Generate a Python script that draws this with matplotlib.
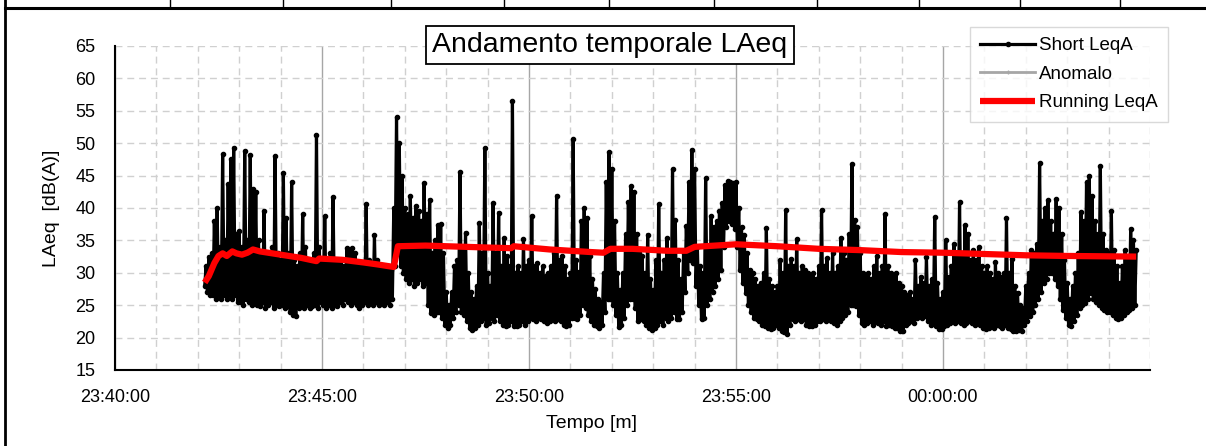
import numpy as np
import matplotlib
matplotlib.use("Agg")
import matplotlib.pyplot as plt
from matplotlib.lines import Line2D

plt.rcParams["font.family"] = ["Liberation Sans", "DejaVu Sans"]

# ---------------- data (seconds since 23:40:00) ----------------
T0 = 130      # first sample 23:42:10
STEP = 4      # lo at t, hi at t+2

# short LeqA, lower envelope (one line per minute)
short_lo = [
    28, 27, 26.5, 26.5, 26, 26.5, 26, 26.5, 26, 26.5, 26, 26.5, 25.5,                     # 23:42
    25.5, 25, 26, 25.5, 25, 25.5, 25, 24.8, 25.5, 24.5, 25, 25.5, 24.5, 25, 24.8,         # 23:43
    25, 24.5, 24.8, 24, 23.5, 23.3, 24.5, 25, 24.5, 25, 24.5, 24.8, 25, 24.5, 25.5,       # 23:44
    25, 24.5, 25, 24.5, 25, 24.8, 25.5, 25, 26, 25.5, 25, 25.5, 25, 24.5, 25,             # 23:45
    25.5, 25, 25.5, 25, 25.5, 25, 25.5, 25, 25.5, 25, 26, 31, 33, 31, 30,                 # 23:46
    29, 28.5, 29, 28, 28.5, 29, 28, 28.5, 25, 23.8, 23.5, 24, 24, 23, 22,                 # 23:47
    21.5, 22, 23, 24, 25, 24, 23.5, 22.5, 21.5, 21.2, 21.5, 22, 22.5, 23, 22,             # 23:48
    22.3, 23, 22.5, 23.5, 22.5, 22, 21.8, 22, 22.5, 21.8, 21.8, 22, 22.5, 22, 22.5,       # 23:49
    23, 22.8, 22.5, 23, 22.8, 22.5, 22.3, 22.5, 23, 22.5, 22.8, 22.5, 22, 21.8, 22,       # 23:50
    23, 23, 22.8, 23.5, 25, 24.5, 23.5, 22.5, 22, 21.8, 21.5, 22, 24, 26, 26,             # 23:51
    25, 23.5, 21.7, 22, 23, 25, 26, 26, 24.5, 22.5, 22.8, 22.5, 22, 21.5, 21.2,           # 23:52
    21.5, 22, 22.5, 22, 23, 22.5, 23, 24, 22.8, 22.8, 24, 27, 30, 32, 31.5,               # 23:53
    28, 25, 22.8, 23, 25, 26, 27, 28, 29, 30.5, 34, 37, 38, 37.5, 36.7,                   # 23:54
    34, 30.5, 28.5, 26.9, 25, 24, 23, 22.8, 22.5, 22, 21.8, 21.5, 21.3, 21.5, 22,         # 23:55
    21.5, 21, 20.8, 20.5, 22, 22.8, 22.5, 22.8, 22.5, 22.8, 22, 21.8, 21.8, 22, 22.5,     # 23:56
    22.5, 22.8, 22.5, 22.8, 22.5, 22.3, 22, 22.5, 23, 23.5, 24, 25, 25, 24.9, 23.5,       # 23:57
    22.3, 22, 22.3, 22.5, 22, 22.5, 22.3, 22, 22.5, 21.8, 22, 21.8, 21.5, 21.5, 21,       # 23:58
    21, 22, 22.3, 22.5, 22.3, 23, 23.3, 23, 23.3, 22.5, 22, 22.3, 21.8, 21.3, 21.3,       # 23:59
    21.8, 22, 22.3, 22.5, 22.3, 22.5, 22.3, 22, 22.3, 22.5, 22.3, 22, 22.3, 22, 21.5,     # 00:00
    21.3, 21.5, 21.8, 21.5, 22, 21.8, 21.5, 22, 21.5, 21.3, 21, 21, 21.2, 21, 22,         # 00:01
    22.5, 23.3, 24, 25, 26, 27, 28.4, 29, 30, 30, 29, 28, 26, 24.3, 23,                   # 00:02
    22, 21.8, 22.5, 23.5, 24.5, 25, 25.4, 26, 26.9, 26, 25.5, 25, 24.5, 24.3, 24,         # 00:03
    24, 23.5, 23, 22.8, 23, 23.5, 24, 24.3, 24.5, 25,                                     # 00:04
]

# short LeqA, upper envelope / spikes
short_hi = [
    31, 32.5, 33, 38, 40, 34, 48.3, 35, 43.7, 47.5, 49.3, 36, 36.4,                       # 23:42
    34, 48.8, 35, 48.2, 43, 42.5, 35, 33, 39.6, 33, 32.5, 34, 48, 33, 32,                 # 23:43
    45.4, 38.5, 33, 44, 32, 31, 33, 39, 34, 32, 31.5, 33, 51.3, 34, 32,                   # 23:44
    38.7, 32, 33, 41.7, 32, 31.5, 32, 31, 33.8, 33.5, 33.8, 33, 31, 30.5, 31,             # 23:45
    40.6, 32, 31.5, 35.8, 32, 31, 30.5, 30.5, 31, 30.5, 40, 54, 50, 45, 40,               # 23:46
    39, 41.9, 38.5, 40.3, 39.5, 38, 43.9, 39, 41.3, 33, 35, 37.4, 37.5, 33, 27,           # 23:47
    25, 27, 31, 32, 45.6, 34, 36.2, 30, 27, 26, 28, 37.7, 33, 49.2, 30,                   # 23:48
    28, 40.8, 33, 39.3, 31, 35.4, 32.6, 31, 56.5, 30, 31, 30, 35.2, 31, 32,               # 23:49
    38.8, 31, 31.5, 30, 31, 29.5, 30, 31, 33, 41.9, 32, 32.6, 31, 29, 30,                 # 23:50
    50.6, 32, 30.2, 38, 40, 38.5, 32.6, 29, 27.5, 26, 25.5, 30, 44, 48.6, 46,             # 23:51
    38, 30, 27.4, 30, 36, 41, 43.4, 42.5, 36, 33, 32.6, 30, 35.9, 29, 27.4,               # 23:52
    32, 40.6, 30, 32, 35.4, 33, 46, 38.2, 32, 29, 33, 37.2, 44, 49, 46,                   # 23:53
    34, 31, 30, 44.6, 34, 38.7, 37, 38, 39.5, 40.8, 43.5, 44.1, 44, 43.8, 44,             # 23:54
    40, 37, 35.9, 33, 30.5, 30, 29, 28, 28.5, 30, 36.9, 29, 28, 27, 28,                   # 23:55
    32, 30, 39.7, 31, 32.2, 31, 35.2, 30, 31, 30.5, 30, 29.5, 30, 29, 31,                 # 23:56
    39.7, 31, 32.3, 30, 33.1, 30, 31, 35.4, 33, 32, 36, 46.8, 38.2, 37, 33,               # 23:57
    30, 29.5, 30, 29, 31, 32.6, 30, 31, 39, 31, 30, 29.5, 30, 28.5, 28,                   # 23:58
    27, 26.5, 27, 26, 32, 28, 29.4, 28.5, 32.5, 28, 29, 38.6, 28.4, 26, 27,               # 23:59
    35, 29.4, 31, 34.5, 33, 40.9, 33, 37.3, 36, 32, 33.5, 32, 34, 31, 30,                 # 00:00
    31, 30, 29, 31.7, 30, 29.4, 30, 38.4, 30, 32.2, 28, 26.9, 25, 24.5, 28,               # 00:01
    30, 33.5, 33, 34.5, 46.9, 38, 40, 41.2, 38, 36, 41.4, 40, 36, 32, 28.4,               # 00:02
    26, 28, 30, 33, 39.4, 38, 44, 45, 41.9, 38, 36, 46.5, 36, 33.5, 33,                   # 00:03
    39.6, 33.5, 31, 28.4, 31, 33.5, 32, 36.8, 35, 33.5,                                   # 00:04
]

# running LeqA
run_t = [130, 136, 144, 150, 156, 162, 170, 176, 184, 192, 200, 210, 240, 270, 292, 296,
         330, 360, 380, 404, 410, 450, 480, 540, 574, 578, 630, 690, 708, 718, 750, 800,
         828, 840, 900, 960, 1020, 1080, 1140, 1200, 1260, 1320, 1380, 1480]
run_leq = [28.5, 29.5, 31.5, 32.6, 33.0, 32.6, 33.3, 33.0, 32.8, 33.1, 33.6, 33.3, 32.8, 32.3, 31.8, 32.2,
           32.0, 31.6, 31.3, 30.9, 34.1, 34.2, 34.1, 33.9, 33.8, 34.1, 33.6, 33.2, 33.1, 33.7, 33.7, 33.4,
           33.4, 34.0, 34.4, 34.1, 33.7, 33.5, 33.2, 33.1, 32.9, 32.7, 32.6, 32.5]

xtick_pos = [0, 300, 600, 900, 1200]
xtick_lab = ["23:40:00", "23:45:00", "23:50:00", "23:55:00", "00:00:00"]

# ---------------- build short series (lo, hi alternating) ----------------
n = min(len(short_lo), len(short_hi))
t_lo = T0 + STEP * np.arange(n)
xs = np.empty(2 * n)
ys = np.empty(2 * n)
xs[0::2] = t_lo
xs[1::2] = t_lo + STEP / 2
ys[0::2] = short_lo[:n]
ys[1::2] = short_hi[:n]

# ---------------- plot ----------------
W, H = 1206, 446
fig = plt.figure(figsize=(W / 100, H / 100), dpi=100)
ax = fig.add_axes([115 / W, 1 - 370 / H, (1150 - 115) / W, (370 - 46) / H])

ax.plot(xs, ys, color="black", linewidth=2.3, marker="o", markersize=3,
        label="Short LeqA", zorder=3)
ax.plot([], [], color="#a6a6a6", linewidth=2, marker="+", markersize=3, label="Anomalo")
ax.plot(run_t, run_leq, color="#ff0000", linewidth=4.5, solid_capstyle="butt",
        label="Running LeqA", zorder=4)

ax.set_xlim(0, 1500)
ax.set_ylim(15, 65)
ax.set_yticks(np.arange(15, 66, 5))
ax.set_xticks(xtick_pos)
ax.set_xticklabels(xtick_lab)
ax.set_xticks(np.arange(0, 1501, 60), minor=True)
ax.tick_params(axis="both", which="both", length=0, labelsize=13)
ax.tick_params(axis="x", pad=14)
ax.tick_params(axis="y", pad=14)

# grid
ax.grid(axis="y", which="major", color="#d0d0d0", linewidth=1.0, linestyle=(0, (5, 3.5)), zorder=0)
ax.grid(axis="x", which="minor", color="#d0d0d0", linewidth=1.0, linestyle=(0, (5, 3.5)), zorder=0)
ax.grid(axis="x", which="major", color="#a6a6a6", linewidth=1.0, linestyle="-", zorder=0)
ax.set_axisbelow(True)

for s in ["top", "right"]:
    ax.spines[s].set_visible(False)
for s in ["left", "bottom"]:
    ax.spines[s].set_linewidth(1.5)
    ax.spines[s].set_color("black")

ax.set_xlabel("Tempo [m]", fontsize=14)
ax.set_ylabel("LAeq  [dB(A)]", fontsize=14)
ax.xaxis.set_label_coords((592 - 115) / 1035, -0.139)
ax.yaxis.set_label_coords(-0.053, 0.5)

# title in a box
fig.text(610 / W, 1 - 45 / H, "Andamento temporale LAeq", fontsize=20.5,
         ha="center", va="center",
         bbox=dict(boxstyle="square,pad=0.22", facecolor="white", edgecolor="black", linewidth=1.3))

leg = ax.legend(loc="upper left", bbox_to_anchor=(970 / W, 1 - 27 / H),
                bbox_transform=fig.transFigure, borderaxespad=0, fontsize=13.5,
                frameon=True, fancybox=False, edgecolor="#d0d0d0",
                handlelength=2.9, handletextpad=0.25, labelspacing=0.6,
                borderpad=0.55)
leg.get_frame().set_linewidth(1.0)

# spreadsheet cell borders around the chart
fig.add_artist(Line2D([5 / W, 1], [1 - 8 / H, 1 - 8 / H], color="black", linewidth=2.2))
fig.add_artist(Line2D([5 / W, 5 / W], [0, 1], color="black", linewidth=2.0))
for cx in [170, 283, 391, 504, 609, 714, 817, 919, 1020, 1120]:
    fig.add_artist(Line2D([cx / W, cx / W], [1 - 8 / H, 1], color="black", linewidth=1.0))

fig.savefig("out.png", dpi=100)
